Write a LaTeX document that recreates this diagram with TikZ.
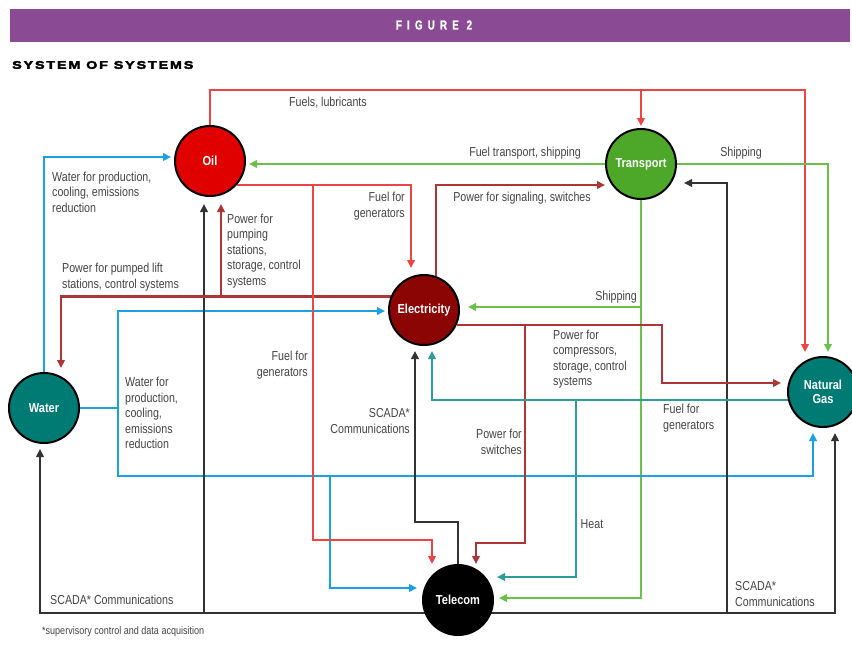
\documentclass[tikz,border=0pt]{standalone}
\usepackage{fontspec}
\setmainfont{Liberation Sans}
\newfontfamily\lblfont[FakeStretch=0.82]{Liberation Sans}
\newfontfamily\nodefont[FakeStretch=0.85]{Liberation Sans}
\newfontfamily\headfont[FakeStretch=0.75,LetterSpace=40,FakeBold=1.5]{Liberation Sans}
\newfontfamily\titlefont[FakeStretch=1.3,LetterSpace=17,FakeBold=3.5]{Liberation Sans}
\usetikzlibrary{arrows.meta,calc}
\pgfdeclarelayer{bg}
\pgfsetlayers{bg,main}
\definecolor{banner}{HTML}{8A4A94}
\definecolor{oilred}{HTML}{E00000}
\definecolor{trgreen}{HTML}{4DA82A}
\definecolor{elred}{HTML}{8B0505}
\definecolor{wteal}{HTML}{007B74}
\definecolor{rl}{HTML}{EF4444}
\definecolor{dr}{HTML}{AE3535}
\definecolor{gl}{HTML}{6CC04A}
\definecolor{bl}{HTML}{1BA1E2}
\definecolor{tl}{HTML}{2E9C9A}
\definecolor{bk}{HTML}{333333}
\definecolor{lblgray}{HTML}{444444}
\begin{document}
\begin{tikzpicture}[x=1pt,y=-1pt,
  sys/.style={circle, draw=black, line width=2pt, minimum size=70pt, inner sep=0pt,
    text=white, font=\nodefont\bfseries\fontsize{13}{14}\selectfont, align=center},
  lbl/.style={inner sep=0pt, text=lblgray, font=\lblfont\fontsize{13}{15.5}\selectfont},
  conn/.style={line width=2.2pt},
  tip/.style={-{Triangle[length=8pt,width=7.5pt]}}]
\useasboundingbox (0,0) rectangle (852,654);
% systems
\node[sys, fill=oilred] (oil) at (210,161) {Oil};
\node[sys, fill=trgreen] (tr) at (641,164) {Transport};
\node[sys, fill=elred] (el) at (424,310) {Electricity};
\node[sys, fill=wteal] (wa) at (44,408) {Water};
\node[sys, fill=wteal] (ng) at (823,392) {Natural\\Gas};
\node[sys, fill=black] (tc) at (458,600) {Telecom};
% heading
\node[text=white, inner sep=0pt, font=\headfont\bfseries\fontsize{13}{14}\selectfont] (head) at (434,25) {FIGURE 2};
\node[anchor=west, inner sep=0pt, font=\titlefont\bfseries\fontsize{11}{12}\selectfont] (title) at (12,65) {SYSTEM OF SYSTEMS};
% connectors
\begin{pgfonlayer}{bg}
\fill[white] (0,0) rectangle (852,654);
\fill[banner] (10,9) rectangle (850,42);
% red from oil top
\draw[conn,rl,tip] (oil.north) |- (805,90) -- ($(ng.north)+(-18,-4)$);
\draw[conn,rl,tip] (tr.north |- 0,90) -- ($(tr.north)+(0,-2)$);
% green from transport
\draw[conn,gl,tip] (tr.west) -- ($(oil.east)+(3,3)$);
\draw[conn,gl,tip] (tr.east) -| ($(ng.north)+(5,-4)$);
\draw[conn,gl,tip] (tr.south) |- ($(tc.east)+(5,-2)$);
\draw[conn,gl,tip] (tr.south |- 0,307) -- ($(el.east)+(8,-3)$);
% blue from water
\draw[conn,bl,tip] (wa.north) |- ($(oil.west)+(-3,-4)$);
\draw[conn,bl,tip] (wa.east) -- (118,408) |- ($(el.west)+(-3,1)$);
\draw[conn,bl,tip] (118,408) |- (813,476) -- ($(ng.south)+(-10,5)$);
\draw[conn,bl,tip] (330,476) |- ($(tc.west)+(-5,-12)$);
% black SCADA from telecom
\draw[conn,bk,tip] (tc.south |- 0,613) -- (40,613) -- ($(wa.south)+(-4,5)$);
\draw[conn,bk,tip] (tc.south |- 0,613) -- (835,613) -- ($(ng.south)+(12,5)$);
\draw[conn,bk,tip] (204,613) -- ($(oil.south)+(-6,7)$);
\draw[conn,bk,tip] (727,613) |- ($(tr.east)+(7,19)$);
\draw[conn,bk,tip] (tc.north) |- (415,522) -- ($(el.south)+(-9,5)$);
% dark red from electricity
\draw[conn,dr,tip] (el.158) -| ($(wa.north)+(17,-4)$);
\draw[conn,dr,tip] (el.158 -| 221,0) -- ($(oil.south)+(11,7)$);
\draw[conn,dr,tip] (el.70) |- ($(tr.west)+(0,21)$);
\draw[conn,dr,tip] (el.-24) -- (el.-24 -| 662,0) |- ($(ng.west)+(-6,-9)$);
\draw[conn,dr,tip] (el.-24 -| 525,0) |- (476,543) -- ($(tc.north)+(18,0)$);
% red from oil side
\draw[conn,rl,tip] (oil.-41) -| ($(el.north)+(-13,-6)$);
\draw[conn,rl,tip] (oil.-41 -| 313,0) |- (432,540) -- ($(tc.north)+(-26,0)$);
% teal from natural gas
\draw[conn,tl,tip] (ng.193) -| ($(el.south)+(8,5)$);
\draw[conn,tl,tip] (ng.193 -| 576,0) |- ($(tc.east)+(3,-23)$);
\end{pgfonlayer}
% labels
\node[lbl] (l1) at (328,103) {Fuels, lubricants};
\node[lbl, anchor=west, align=left] (l2) at (52,192) {Water for production,\\cooling, emissions\\reduction};
\node[lbl, anchor=east, align=right] (l3) at (405,206) {Fuel for\\generators};
\node[lbl, anchor=west, align=left] (l4) at (227,251) {Power for\\pumping\\stations,\\storage, control\\systems};
\node[lbl, anchor=west, align=left] (l5) at (62,277) {Power for pumped lift\\stations, control systems};
\node[lbl, anchor=west, align=left] (l6) at (125,413) {Water for\\production,\\cooling,\\emissions\\reduction};
\node[lbl, anchor=east, align=right] (l7) at (308,365) {Fuel for\\generators};
\node[lbl, anchor=east, align=right] (l8) at (410,421) {SCADA*\\Communications};
\node[lbl, anchor=east, align=right] (l9) at (522,442) {Power for\\switches};
\node[lbl, anchor=west, align=left] (l10) at (553,359) {Power for\\compressors,\\storage, control\\systems};
\node[lbl] (l11) at (616,297) {Shipping};
\node[lbl, anchor=west, align=left] (l12) at (663,418) {Fuel for\\generators};
\node[lbl] (l13) at (592,524) {Heat};
\node[lbl, anchor=west, align=left] (l14) at (735,594) {SCADA*\\Communications};
\node[lbl, anchor=west] (l15) at (50,600) {SCADA* Communications};
\node[lbl, anchor=west, font=\lblfont\fontsize{11}{13}\selectfont] (l16) at (42,632) {*supervisory control and data acquisition};
\node[lbl] (l17) at (525,153) {Fuel transport, shipping};
\node[lbl] (l18) at (741,153) {Shipping};
\node[lbl] (l19) at (522,198) {Power for signaling, switches};
\end{tikzpicture}
\end{document}
